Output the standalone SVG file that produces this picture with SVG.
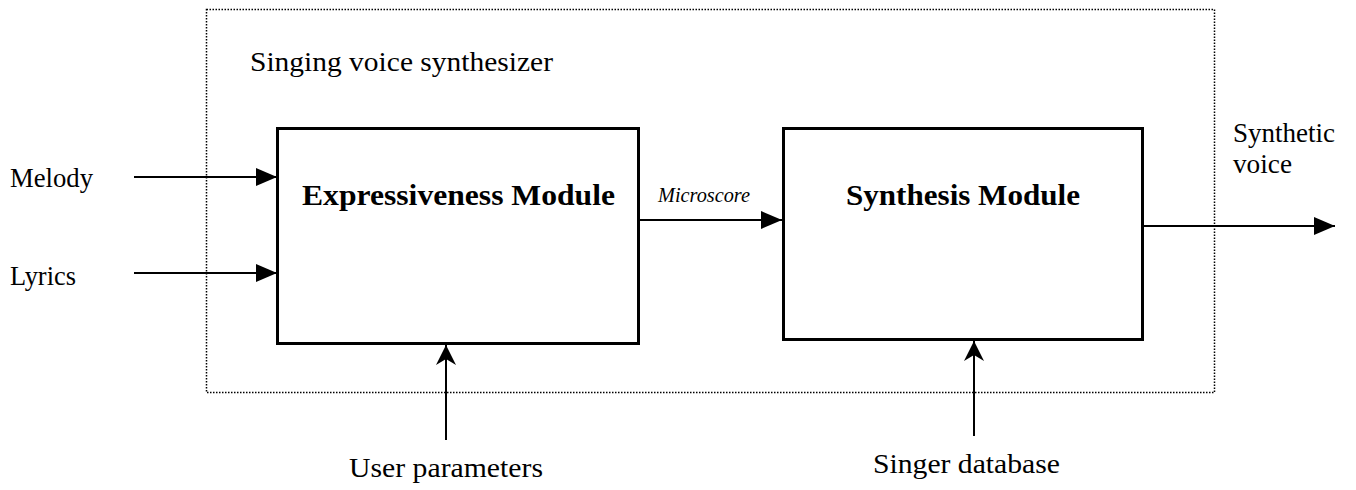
<svg xmlns="http://www.w3.org/2000/svg" width="1356" height="490" viewBox="0 0 1356 490">
<style>
.t{font-family:"Liberation Serif",serif;fill:#000;font-size:28px}
.b{font-weight:bold;font-size:30px}
.i{font-style:italic;font-size:21px}
.box{fill:#fff;stroke:#000;stroke-width:3}
.ln{stroke:#000;stroke-width:2;fill:none}
</style>
<defs>
<marker id="tri" markerUnits="userSpaceOnUse" markerWidth="22" markerHeight="18" refX="21" refY="9" orient="auto">
<path d="M0,0 L21,9 L0,18 Z" fill="#000"/>
</marker>
<marker id="stealth" markerUnits="userSpaceOnUse" markerWidth="22" markerHeight="22" refX="20" refY="11" orient="auto">
<path d="M0,1 L20,11 L0,21 L6,11 Z" fill="#000"/>
</marker>
</defs>
<rect x="206.5" y="9.5" width="1008" height="383" fill="none" stroke="#000" stroke-width="1.5" stroke-dasharray="1.5,1.5"/>
<text class="t" x="250" y="71" textLength="303" lengthAdjust="spacingAndGlyphs">Singing voice synthesizer</text>
<g id="expressiveness">
<rect class="box" x="277.5" y="128.5" width="361" height="215"/>
<text class="t b" x="302" y="205" textLength="313" lengthAdjust="spacingAndGlyphs">Expressiveness Module</text>
</g>
<g id="synthesis">
<rect class="box" x="783.5" y="128.5" width="359" height="211"/>
<text class="t b" x="846" y="205" textLength="234" lengthAdjust="spacingAndGlyphs">Synthesis Module</text>
</g>
<g id="melody"><text class="t" x="10" y="187" textLength="83" lengthAdjust="spacingAndGlyphs">Melody</text></g>
<g id="lyrics"><text class="t" x="10" y="285" textLength="66" lengthAdjust="spacingAndGlyphs">Lyrics</text></g>
<g id="synthvoice"><text class="t" x="1233" y="142" textLength="102" lengthAdjust="spacingAndGlyphs">Synthetic</text><text class="t" x="1233" y="173" textLength="59" lengthAdjust="spacingAndGlyphs">voice</text></g>
<g id="userparams"><text class="t" x="349" y="477" textLength="194" lengthAdjust="spacingAndGlyphs">User parameters</text></g>
<g id="singerdb"><text class="t" x="873" y="473" textLength="187" lengthAdjust="spacingAndGlyphs">Singer database</text></g>
<g id="connectors">
<line class="ln" x1="134" y1="177" x2="277" y2="177" marker-end="url(#tri)"/>
<line class="ln" x1="134" y1="273" x2="277" y2="273" marker-end="url(#tri)"/>
<line class="ln" x1="639" y1="220" x2="782" y2="220" marker-end="url(#tri)"/>
<text class="t i" x="658" y="202" textLength="92" lengthAdjust="spacingAndGlyphs">Microscore</text>
<line class="ln" x1="1143" y1="226" x2="1335" y2="226" marker-end="url(#tri)"/>
<line class="ln" x1="446" y1="440" x2="446" y2="345" marker-end="url(#stealth)"/>
<line class="ln" x1="974" y1="436" x2="974" y2="341" marker-end="url(#stealth)"/>
</g>
</svg>
